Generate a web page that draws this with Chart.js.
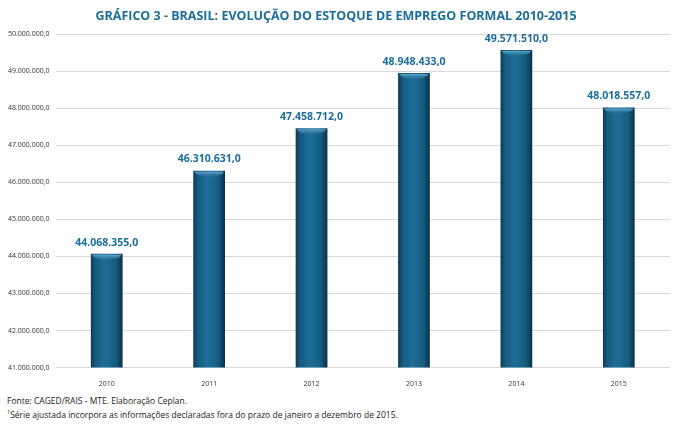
<!DOCTYPE html>
<html>
<head>
<meta charset="utf-8">
<script src="https://cdn.jsdelivr.net/npm/chart.js@4"></script>
<style>
  html, body { margin: 0; padding: 0; background: #fff; }
  #wrap { position: relative; width: 680px; height: 424px; }
  #chart { position: absolute; left: 0; top: 0; }
  .note { position: absolute; left: 7px; font: 8.5px "Open Sans", sans-serif; color: #222; white-space: nowrap; }
</style>
</head>
<body>
<div id="wrap">
  <canvas id="chart" width="680" height="392"></canvas>
  <div class="note" style="top:395px">Fonte: CAGED/RAIS - MTE. Elaboração Ceplan.</div>
  <div class="note" style="top:408px"><sup style="font-size:5.5px">1</sup>Série ajustada incorpora as informações declaradas fora do prazo de janeiro a dezembro de 2015.</div>
</div>
<script>
/* ── data */
const years  = ['2010', '2011', '2012', '2013', '2014', '2015'];
const stock  = [44068355, 46310631, 47458712, 48948433, 49571510, 48018557];
const yTicks = [41e6, 42e6, 43e6, 44e6, 45e6, 46e6, 47e6, 48e6, 49e6, 50e6];

const BAR_PCT = 0.31;
const fmt = v => v.toLocaleString('de-DE', { minimumFractionDigits: 1, maximumFractionDigits: 1 });

/* ── bar fill: dark edges, lighter middle (per bar, from the x scale) */
function barFill(c) {
  const chart = c.chart, area = chart.chartArea, xs = chart.scales.x;
  if (!area || !xs || c.dataIndex === undefined) return '#175f86';
  const cx = xs.getPixelForValue(c.dataIndex);
  const w  = area.width / years.length * BAR_PCT;
  const g  = chart.ctx.createLinearGradient(cx - w / 2, 0, cx + w / 2, 0);
  g.addColorStop(0,    '#0c3b55');
  g.addColorStop(0.15, '#165b80');
  g.addColorStop(0.45, '#1e6f99');
  g.addColorStop(0.8,  '#165b80');
  g.addColorStop(1,    '#093047');
  return g;
}

/* ── bevel highlight on top of each bar */
const barBevel = {
  id: 'barBevel',
  afterDatasetsDraw(chart) {
    const ctx = chart.ctx;
    chart.getDatasetMeta(0).data.forEach(b => {
      const l = b.x - b.width / 2, w = b.width;
      ctx.save();
      const g = ctx.createLinearGradient(0, b.y, 0, b.y + 7);
      g.addColorStop(0, 'rgba(125,195,228,0.95)');
      g.addColorStop(1, 'rgba(40,120,165,0)');
      ctx.fillStyle = g;
      ctx.beginPath();
      ctx.moveTo(l + 1, b.y + 1);
      ctx.lineTo(l + w - 1, b.y + 1);
      ctx.quadraticCurveTo(l + w - 3, b.y + 6, l + w / 2, b.y + 6);
      ctx.quadraticCurveTo(l + 3, b.y + 6, l + 1, b.y + 1);
      ctx.fill();
      ctx.restore();
    });
  }
};

/* ── value labels above bars */
const valueLabels = {
  id: 'valueLabels',
  afterDatasetsDraw(chart) {
    const ctx = chart.ctx;
    ctx.save();
    ctx.font = 'bold 10.5px "Open Sans", sans-serif';
    ctx.fillStyle = '#1b6e9b';
    ctx.textAlign = 'center';
    ctx.textBaseline = 'bottom';
    chart.getDatasetMeta(0).data.forEach((b, i) => {
      ctx.fillText(fmt(stock[i]), b.x, b.y - 6);
    });
    ctx.restore();
  }
};

new Chart(document.getElementById('chart'), {
  type: 'bar',
  data: {
    labels: years,
    datasets: [{
      data: stock,
      backgroundColor: barFill,
      borderWidth: 0,
      barPercentage: BAR_PCT,
      categoryPercentage: 1
    }]
  },
  options: {
    responsive: false,
    animation: false,
    layout: { padding: { left: 2, right: 10, top: 0, bottom: 0 } },
    plugins: {
      legend: { display: false },
      tooltip: { enabled: false },
      title: {
        display: true,
        text: 'GRÁFICO 3 - BRASIL: EVOLUÇÃO DO ESTOQUE DE EMPREGO FORMAL 2010-2015',
        color: '#1b6e9b',
        font: { family: '"Open Sans", sans-serif', size: 12.5, weight: 'bold' },
        padding: { top: 9, bottom: 10 }
      }
    },
    scales: {
      x: {
        grid: { display: false },
        border: { display: false },
        ticks: { color: '#333', font: { family: '"Open Sans", sans-serif', size: 7 }, padding: 4 }
      },
      y: {
        min: yTicks[0],
        max: yTicks[yTicks.length - 1],
        afterBuildTicks: s => { s.ticks = yTicks.map(v => ({ value: v })); },
        grid: { color: '#d9d9d9', drawTicks: false },
        border: { display: false },
        ticks: {
          color: '#333',
          font: { family: '"Open Sans", sans-serif', size: 7 },
          padding: 6,
          callback: v => fmt(v)
        }
      }
    }
  },
  plugins: [barBevel, valueLabels]
});
</script>
</body>
</html>
